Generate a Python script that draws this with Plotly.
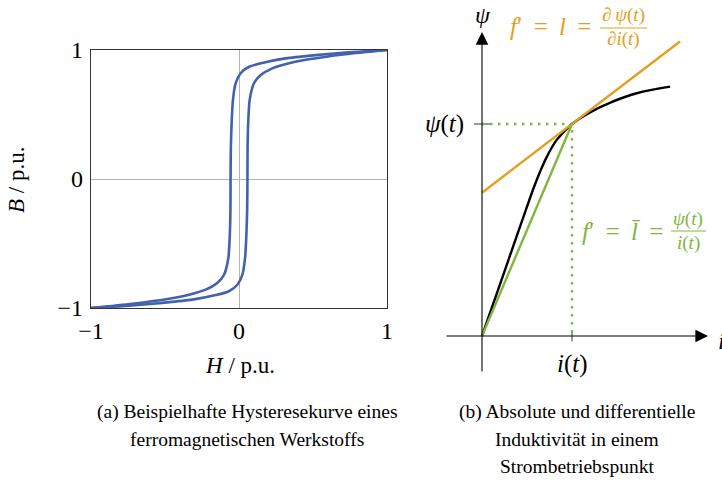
import plotly.graph_objects as go

# ---------------- data ----------------
# (a) hysteresis loop (H, B in p.u.)
H_desc = [1.0, 0.72, 0.518, 0.315, 0.157, 0.068, 0.011, -0.023, -0.041, -0.049, -0.055, -0.057,
          -0.058, -0.063, -0.072, -0.101, -0.147, -0.225, -0.338, -0.473, -0.72, -1.0]
B_desc = [1.0, 0.98, 0.96, 0.935, 0.90, 0.87, 0.82, 0.742, 0.612, 0.457, 0.25, 0.0,
          -0.25, -0.457, -0.612, -0.742, -0.806, -0.858, -0.897, -0.928, -0.967, -1.0]
H_asc = [-1.0, -0.72, -0.518, -0.315, -0.157, -0.068, -0.011, 0.023, 0.041, 0.049, 0.055, 0.057,
         0.058, 0.063, 0.072, 0.101, 0.147, 0.225, 0.338, 0.473, 0.72, 1.0]
B_asc = [-1.0, -0.98, -0.96, -0.935, -0.90, -0.87, -0.82, -0.742, -0.612, -0.457, -0.25, 0.0,
         0.25, 0.457, 0.612, 0.742, 0.806, 0.858, 0.897, 0.928, 0.967, 1.0]
tick_vals = [-1, 0, 1]
tick_text = ["\u22121", "0", "1"]

# (b) flux linkage curve (units: operating point i(t)=1, psi(t)=1)
curve_i = [0.0, 0.25, 0.50, 0.58, 0.645, 0.72, 0.83, 1.0, 1.2, 1.42, 1.72, 2.09]
curve_psi = [0.0, 0.305, 0.61, 0.705, 0.775, 0.845, 0.925, 1.0, 1.055, 1.10, 1.145, 1.176]
op_i = 1.0
op_psi = 1.0
tangent_i = [0.0, 2.2]
tangent_psi = [0.676, 1.389]
secant_i = [0.0, op_i]
secant_psi = [0.0, op_psi]

# ---------------- styles ----------------
W, H = 722, 487
SERIF = "Liberation Serif, Times New Roman, serif"
BLUE = "#4262ae"
ORANGE = "#e3a020"
GREEN = "#82b53e"
SP = " \u2009"


def px(x):
    return x / W


def py(y):
    return 1 - y / H


fig = go.Figure()

# (a)
fig.add_trace(go.Scatter(x=H_desc, y=B_desc, mode="lines", xaxis="x", yaxis="y",
                         line=dict(color=BLUE, width=2.6, shape="spline", smoothing=0.7),
                         showlegend=False, hoverinfo="skip"))
fig.add_trace(go.Scatter(x=H_asc, y=B_asc, mode="lines", xaxis="x", yaxis="y",
                         line=dict(color=BLUE, width=2.6, shape="spline", smoothing=0.7),
                         showlegend=False, hoverinfo="skip"))

# (b)
fig.add_trace(go.Scatter(x=curve_i, y=curve_psi, mode="lines", xaxis="x2", yaxis="y2",
                         line=dict(color="black", width=2.4, shape="spline", smoothing=1.0),
                         showlegend=False, hoverinfo="skip"))
fig.add_trace(go.Scatter(x=secant_i, y=secant_psi, mode="lines", xaxis="x2", yaxis="y2",
                         line=dict(color=GREEN, width=2.4), showlegend=False, hoverinfo="skip"))
fig.add_trace(go.Scatter(x=tangent_i, y=tangent_psi, mode="lines", xaxis="x2", yaxis="y2",
                         line=dict(color=ORANGE, width=2.4), showlegend=False, hoverinfo="skip"))
fig.add_trace(go.Scatter(x=[0.0, op_i, op_i], y=[op_psi, op_psi, 0.0], mode="lines",
                         xaxis="x2", yaxis="y2",
                         line=dict(color=GREEN, width=2.4, dash="2.5px,5.5px"),
                         showlegend=False, hoverinfo="skip"))

# right panel pixel mapping: origin (482,336), 90 px per i unit, 212 px per psi unit
x2_left, x2_right = 430, 722
y2_top, y2_bot = 0, 380
ox, oy, sx, sy = 482, 336, 90.0, 212.0

fig.update_layout(
    width=W, height=H,
    margin=dict(l=0, r=0, t=0, b=0, autoexpand=False),
    paper_bgcolor="white", plot_bgcolor="white",
    font=dict(family=SERIF, color="black"),
    xaxis=dict(domain=[px(91), px(387)], range=[-1, 1], tickvals=tick_vals, ticktext=tick_text,
               showgrid=False, zeroline=True, zerolinecolor="#b4b4b4", zerolinewidth=1,
               showline=True, linecolor="#333333", linewidth=1.2, mirror=True,
               ticks="", tickfont=dict(family=SERIF, size=24, color="black"),
               ticklabelstandoff=1, fixedrange=True, automargin=False),
    yaxis=dict(domain=[py(308), py(50)], range=[-1, 1], tickvals=tick_vals, ticktext=tick_text,
               showgrid=False, zeroline=True, zerolinecolor="#b4b4b4", zerolinewidth=1,
               showline=True, linecolor="#333333", linewidth=1.2, mirror=True,
               ticks="", tickfont=dict(family=SERIF, size=24, color="black"),
               ticklabelstandoff=2, fixedrange=True, automargin=False),
    xaxis2=dict(domain=[px(x2_left), px(x2_right)],
                range=[(x2_left - ox) / sx, (x2_right - ox) / sx],
                visible=False, anchor="y2", fixedrange=True, automargin=False),
    yaxis2=dict(domain=[py(y2_bot), py(y2_top)],
                range=[(oy - y2_bot) / sy, (oy - y2_top) / sy],
                visible=False, anchor="x2", fixedrange=True, automargin=False),
)


def label(text, x, y, size, color="black", xanchor="center", yanchor="middle", **kw):
    d = dict(text=text, x=x, y=y, xref="paper", yref="paper", showarrow=False,
             xanchor=xanchor, yanchor=yanchor,
             font=dict(size=size, family=SERIF, color=color))
    d.update(kw)
    return d


ann = []
# axis titles (a)
ann.append(label("<i>H</i> / p.u.", px(240), py(365), 23))
ann.append(label("<i>B</i> / p.u.", px(17), py(180), 23, textangle=-90))

# arrows of (b)
ann.append(dict(x=(708 - ox) / sx, y=0, ax=(445 - ox) / sx, ay=0, xref="x2", yref="y2",
                axref="x2", ayref="y2", text="", showarrow=True, arrowhead=2, arrowsize=2.3,
                arrowwidth=1.1, arrowcolor="black", standoff=0, startstandoff=0))
ann.append(dict(x=0, y=(oy - 32) / sy, ax=0, ay=(oy - 373) / sy, xref="x2", yref="y2",
                axref="x2", ayref="y2", text="", showarrow=True, arrowhead=2, arrowsize=2.3,
                arrowwidth=1.1, arrowcolor="black", standoff=0, startstandoff=0))

# axis labels of (b)
ann.append(label("<i>\u03c8</i>", px(483), py(15), 24))
ann.append(label("<i>i</i>", px(716), py(341), 24, xanchor="left"))
ann.append(dict(text="<i>\u03c8</i>(<i>t</i>)", x=0, y=op_psi, xref="x2", yref="y2",
                xanchor="right", yanchor="middle", xshift=-16, showarrow=False,
                font=dict(size=25, family=SERIF)))
ann.append(dict(text="<i>i</i>(<i>t</i>)", x=op_i, y=0, xref="x2", yref="y2",
                xanchor="center", yanchor="top", yshift=-12, showarrow=False,
                font=dict(size=25, family=SERIF)))

# orange formula
ann.append(label("<i>f</i>\u2032" + SP + "=" + SP + "<i>l</i>" + SP + "=", px(508), py(26), 25,
                 ORANGE, xanchor="left"))
ann.append(label("\u2202\u2009<i>\u03c8</i>(<i>t</i>)", px(623), py(15), 19, ORANGE))
ann.append(label("\u2202<i>i</i>(<i>t</i>)", px(623), py(39), 19, ORANGE))
# green formula
ann.append(label("<i>f</i>\u2032" + SP + "=" + SP + "<i>l\u0304</i>" + SP + "=", px(580), py(232), 25,
                 GREEN, xanchor="left"))
ann.append(label("<i>\u03c8</i>(<i>t</i>)", px(688), py(219), 19, GREEN))
ann.append(label("<i>i</i>(<i>t</i>)", px(688), py(243), 19, GREEN))

# captions
cap_a = ["(a) Beispielhafte Hysteresekurve eines", "ferromagnetischen Werkstoffs"]
cap_b = ["(b) Absolute und differentielle", "Induktivit\u00e4t in einem", "Strombetriebspunkt"]
for k, line in enumerate(cap_a):
    ann.append(label(line, px(247), py(412 + 27 * k), 19.5))
for k, line in enumerate(cap_b):
    ann.append(label(line, px(577), py(412 + 27 * k), 19.5))

fig.update_layout(annotations=ann)

# small decorations: fraction bars and operating point tick marks
shapes = [
    dict(type="line", xref="paper", yref="paper", x0=px(600), x1=px(647), y0=py(28), y1=py(28),
         line=dict(color=ORANGE, width=1)),
    dict(type="line", xref="paper", yref="paper", x0=px(671), x1=px(706), y0=py(231), y1=py(231),
         line=dict(color=GREEN, width=1)),
    dict(type="line", xref="x2", yref="y2", x0=-0.09, x1=0.09, y0=op_psi, y1=op_psi,
         line=dict(color="#555555", width=1.2), layer="below"),
    dict(type="line", xref="x2", yref="y2", x0=op_i, x1=op_i, y0=-0.025, y1=0.025,
         line=dict(color="#555555", width=1.2), layer="below"),
]
fig.update_layout(shapes=shapes)

fig.write_html("out.html")
